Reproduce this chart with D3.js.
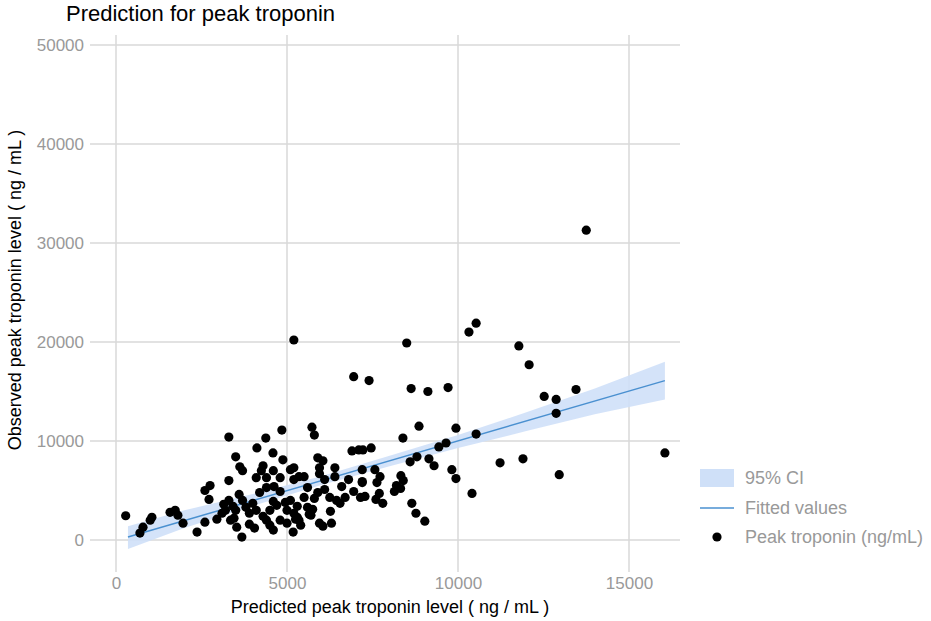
<!DOCTYPE html>
<html><head><meta charset="utf-8">
<script src="https://cdn.jsdelivr.net/npm/d3@7"></script>
<style>body{margin:0;background:#fff;font-family:"Helvetica Neue",Arial,"Liberation Sans",sans-serif}</style>
</head><body><svg id="c" width="931" height="621"></svg>
<script>
const xTicks=[0,5000,10000,15000];
const yTicks=[0,10000,20000,30000,40000,50000];
const predicted=[283,700,790,1000,1050,1580,1730,1810,1960,2370,2600,2600,2750,2720,3100,3300,3500,3620,3700,3300,3300,3200,3350,3530,3680,3420,3500,3700,3800,3900,4000,4100,4120,4380,4300,4250,4100,4400,4400,4200,4590,4850,4600,4620,4800,4880,4800,4600,4500,4400,4600,4800,5000,5100,5200,5180,5000,5300,5300,5350,5200,5100,5200,5350,5500,5600,5500,5600,5700,5950,5730,5800,5900,6050,5950,5950,6100,6100,5800,5900,6250,6270,6300,6400,6400,6600,6700,6450,6550,6800,6950,6900,7100,7200,7200,7150,
10320,10530,8500,11780,12080,7400,8630,9120,9710,12520,12870,13450,12870,8860,9940,10530,8390,9650,9440,7220,7460,8800,8600,9150,9300,9820,9940,11230,11900,12960,16050,10410,7570,7720,8330,8400,8200,8320,8140,7630,7200,7280,7700,7600,7800,8650,8770,9030,13750,5200,6950,
3450,3900,4300,4700,5400,5650,3600,4050,4950,5250,5750,6050,3150,2950,4500];
const observed=[2450,700,1300,2000,2300,2800,3000,2500,1700,800,1800,5000,5500,4100,2700,10400,8400,7400,7000,6000,4000,3000,2000,1300,300,3400,3000,4000,3300,2700,3700,3000,9300,10300,7500,7000,6300,6300,5300,4800,8800,11100,7000,5400,6300,8100,4900,3900,3000,2000,1000,2000,3000,4000,2700,800,1700,2300,3400,2000,6100,7100,7300,6400,6400,5300,4300,3300,2500,1700,11400,10600,8300,8000,7300,6700,6100,5100,4200,4800,4300,2900,1700,7300,6400,5400,4300,4000,3700,6100,4900,9000,9100,7100,5900,4300,
21000,21900,19900,19600,17700,16100,15300,15000,15400,14500,14200,15200,12800,11500,11300,10700,10300,9800,9400,9100,9300,8400,7900,8200,7500,7100,6200,7800,8200,6600,8800,4700,7100,6400,6500,6000,5500,5200,4900,5800,5800,4400,4700,4100,3700,3700,2700,1900,31300,20200,16500,
2200,1600,2400,3500,1500,2600,4600,1200,3800,2100,3100,1400,3600,2100,1500];
const fitX=[350,16050];
const fitY=[300,16100];
const ciX=[350,2000,4000,6000,8000,10000,12000,14000,16050];
const ciLo=[-900,1200,3450,5550,7450,9300,11000,12700,14200];
const ciHi=[1400,3000,4650,6450,8500,10600,12900,15300,18000];

const svg=d3.select("#c");
const x=d3.scaleLinear().domain([0,15000]).range([116,629]);
const y=d3.scaleLinear().domain([0,50000]).range([540,45]);
const L=90,R=680,T=35,B=572;
const g=svg.append("g");
yTicks.forEach(t=>g.append("line").attr("x1",L).attr("x2",R).attr("y1",y(t)).attr("y2",y(t)).attr("stroke","#d9d9d9").attr("stroke-width",1.5));
xTicks.forEach(t=>g.append("line").attr("y1",T).attr("y2",B).attr("x1",x(t)).attr("x2",x(t)).attr("stroke","#d9d9d9").attr("stroke-width",1.5));
const band=ciX.map((v,i)=>[v,ciLo[i],ciHi[i]]);
g.append("path").datum(band).attr("fill","#cfe0f8").attr("opacity",0.9)
 .attr("d",d3.area().x(d=>x(d[0])).y0(d=>y(d[1])).y1(d=>y(d[2])));
g.append("line").attr("x1",x(fitX[0])).attr("x2",x(fitX[1])).attr("y1",y(fitY[0])).attr("y2",y(fitY[1])).attr("stroke","#4a90d0").attr("stroke-width",1.5);
g.selectAll("circle").data(predicted.map((p,i)=>[p,observed[i]])).join("circle")
 .attr("cx",d=>x(d[0])).attr("cy",d=>y(d[1])).attr("r",4.6).attr("fill","#000");
const xa=svg.append("g").attr("transform",`translate(0,${B})`).call(d3.axisBottom(x).tickValues(xTicks).tickSize(0).tickPadding(5).tickFormat(d3.format("d")));
const ya=svg.append("g").attr("transform",`translate(${L},0)`).call(d3.axisLeft(y).tickValues(yTicks).tickSize(0).tickPadding(6).tickFormat(d3.format("d")));
[xa,ya].forEach(a=>{a.select(".domain").remove();a.selectAll("text").attr("fill","#999").attr("font-size",17).attr("font-family","inherit");});
svg.append("text").attr("x",66).attr("y",21).attr("font-size",22).text("Prediction for peak troponin");
svg.append("text").attr("x",390).attr("y",613).attr("text-anchor","middle").attr("font-size",18).text("Predicted peak troponin level ( ng / mL )");
svg.append("text").attr("transform","translate(21,290) rotate(-90)").attr("text-anchor","middle").attr("font-size",18).text("Observed peak troponin level ( ng / mL )");
const lg=svg.append("g");
lg.append("rect").attr("x",700).attr("y",469).attr("width",34).attr("height",18).attr("fill","#cfe0f8");
lg.append("line").attr("x1",700).attr("x2",734).attr("y1",508).attr("y2",508).attr("stroke","#4a90d0").attr("stroke-width",1.5);
lg.append("circle").attr("cx",717).attr("cy",537).attr("r",4.6).attr("fill","#000");
[["95% CI",478],["Fitted values",508],["Peak troponin (ng/mL)",537]].forEach(([t,yy])=>
 lg.append("text").attr("x",745).attr("y",yy).attr("dy","0.35em").attr("font-size",18).attr("fill","#999").text(t));
</script></body></html>
